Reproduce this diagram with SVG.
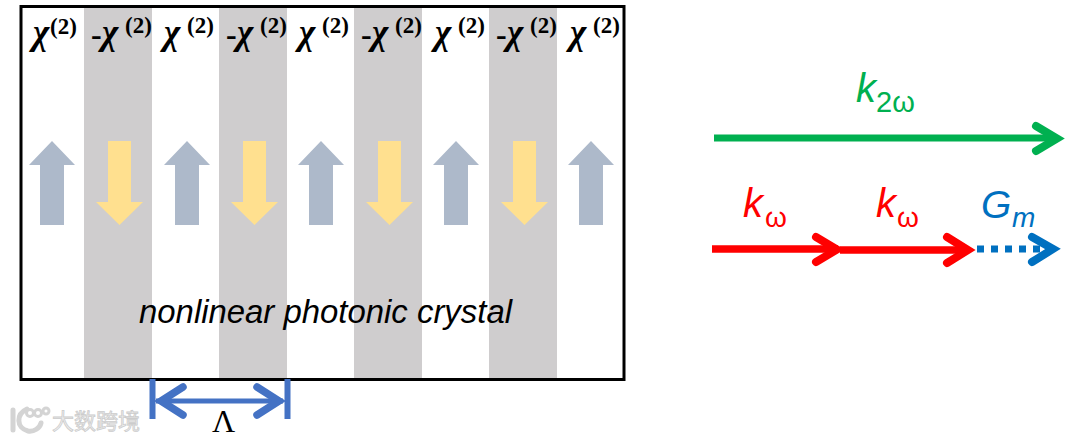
<svg xmlns="http://www.w3.org/2000/svg" width="1080" height="439" viewBox="0 0 1080 439">
<style>
.stripe{fill:#cfcdce}
.up{fill:#adb9ca}
.down{fill:#ffe08f}
.chi{font:italic bold 35px "Liberation Serif",serif;fill:#000}
.sup{font:bold 23px "Liberation Serif",serif;fill:#000}
.neg{font:bold 32px "Liberation Serif",serif;fill:#000}
.lab{font-family:"Liberation Sans",Arial,sans-serif;font-style:italic}
.sub{font-family:"Liberation Sans",Arial,sans-serif}
.ln{fill:none;stroke-linecap:butt}
.hd{fill:none;stroke-linecap:round;stroke-linejoin:miter}
</style>
<defs>
<polygon id="ua" class="up" points="52,141 75,165 64,165 64,225 40,225 40,165 29,165"/>
<polygon id="da" class="down" points="108,141 131,141 131,202 143,202 119.500,225 96,202 108,202"/>
</defs>
<rect width="1080" height="439" fill="#fff"/>
<g id="crystal">
<rect class="stripe" x="84" y="7" width="68" height="372"/>
<rect class="stripe" x="219" y="7" width="68" height="372"/>
<rect class="stripe" x="354" y="7" width="68" height="372"/>
<rect class="stripe" x="489" y="7" width="68" height="372"/>
<rect x="21" y="6.500" width="603" height="373" fill="none" stroke="#000" stroke-width="3"/>
</g>
<g id="chi-labels">
<text class="chi" x="33" y="44">χ</text><text class="sup" x="50" y="34">(2)</text>
<text class="neg" x="91" y="45">-</text><text class="chi" x="102" y="44">χ</text><text class="sup" x="125" y="33">(2)</text>
<text class="chi" x="164" y="44">χ</text><text class="sup" x="187" y="33">(2)</text>
<text class="neg" x="226" y="45">-</text><text class="chi" x="237" y="44">χ</text><text class="sup" x="260" y="33">(2)</text>
<text class="chi" x="299" y="44">χ</text><text class="sup" x="322" y="33">(2)</text>
<text class="neg" x="361" y="45">-</text><text class="chi" x="372" y="44">χ</text><text class="sup" x="395" y="33">(2)</text>
<text class="chi" x="435" y="44">χ</text><text class="sup" x="458" y="33">(2)</text>
<text class="neg" x="496" y="45">-</text><text class="chi" x="507" y="44">χ</text><text class="sup" x="530" y="33">(2)</text>
<text class="chi" x="570" y="44">χ</text><text class="sup" x="593" y="33">(2)</text>
</g>
<g id="domain-arrows">
<use href="#ua"/><use href="#da"/>
<use href="#ua" x="135"/><use href="#da" x="135"/>
<use href="#ua" x="269"/><use href="#da" x="270"/>
<use href="#ua" x="404"/><use href="#da" x="405"/>
<use href="#ua" x="539"/>
</g>
<text id="crystal-label" class="lab" x="139" y="323" font-size="32.900" fill="#000">nonlinear photonic crystal</text>
<g id="connectors">
<g stroke="#4472c4">
<path class="ln" d="M152.500 379V419M287.500 379V419" stroke-width="6"/>
<path class="ln" d="M156 401H283" stroke-width="5"/>
<path class="hd" d="M183 387L161 401L183 415M257 387L279 401L257 415" stroke-width="7.500"/>
</g>
<g stroke="#00b050">
<path class="ln" d="M714 138H1056" stroke-width="7"/>
<path class="hd" d="M1036 126L1057 138.500L1036 151" stroke-width="8"/>
</g>
<g stroke="#0070c0">
<path class="ln" d="M977 249H1040" stroke-width="7" stroke-dasharray="7 7"/>
<path class="hd" d="M1032 237L1053 249L1032 262" stroke-width="8"/>
</g>
<g stroke="#ff0000">
<path class="ln" d="M712 249H838M840 250H968" stroke-width="7.500"/>
<path class="hd" d="M816 237L837 249.500L816 262M947 237L968 250L947 263" stroke-width="8"/>
</g>
</g>
<g id="wave-labels">
<text class="lab" x="856" y="102" font-size="40" fill="#00b050">k</text>
<text class="sub" x="876" y="112" font-size="29" fill="#00b050">2ω</text>
<text class="lab" x="743" y="217" font-size="40" fill="#ff0000">k</text>
<text class="sub" x="765" y="227" font-size="28" fill="#ff0000">ω</text>
<text class="lab" x="876" y="217" font-size="40" fill="#ff0000">k</text>
<text class="sub" x="897" y="227" font-size="28" fill="#ff0000">ω</text>
<text class="lab" x="981" y="218" font-size="39" fill="#0070c0">G</text>
<text class="lab" x="1012" y="227" font-size="28" fill="#0070c0">m</text>
</g>
<text id="lambda" x="212" y="432" font-family="Liberation Serif,serif" font-size="32" fill="#000">Λ</text>
<g id="watermark" fill="none" stroke="#d4d4d4" stroke-width="3" stroke-linecap="round">
<path d="M13 410V430M27 409C16 414 16 428 28 431C34 432 40 428 41 423" stroke-width="5"/>
<circle cx="30" cy="413" r="3.500"/><circle cx="38" cy="413" r="3.500"/><circle cx="46" cy="411" r="3"/>
<text x="52" y="429" font-family="Noto Sans CJK SC,sans-serif" font-size="22" fill="#efefef" stroke="#cccccc" stroke-width=".8">大数跨境</text>
</g>
</svg>
